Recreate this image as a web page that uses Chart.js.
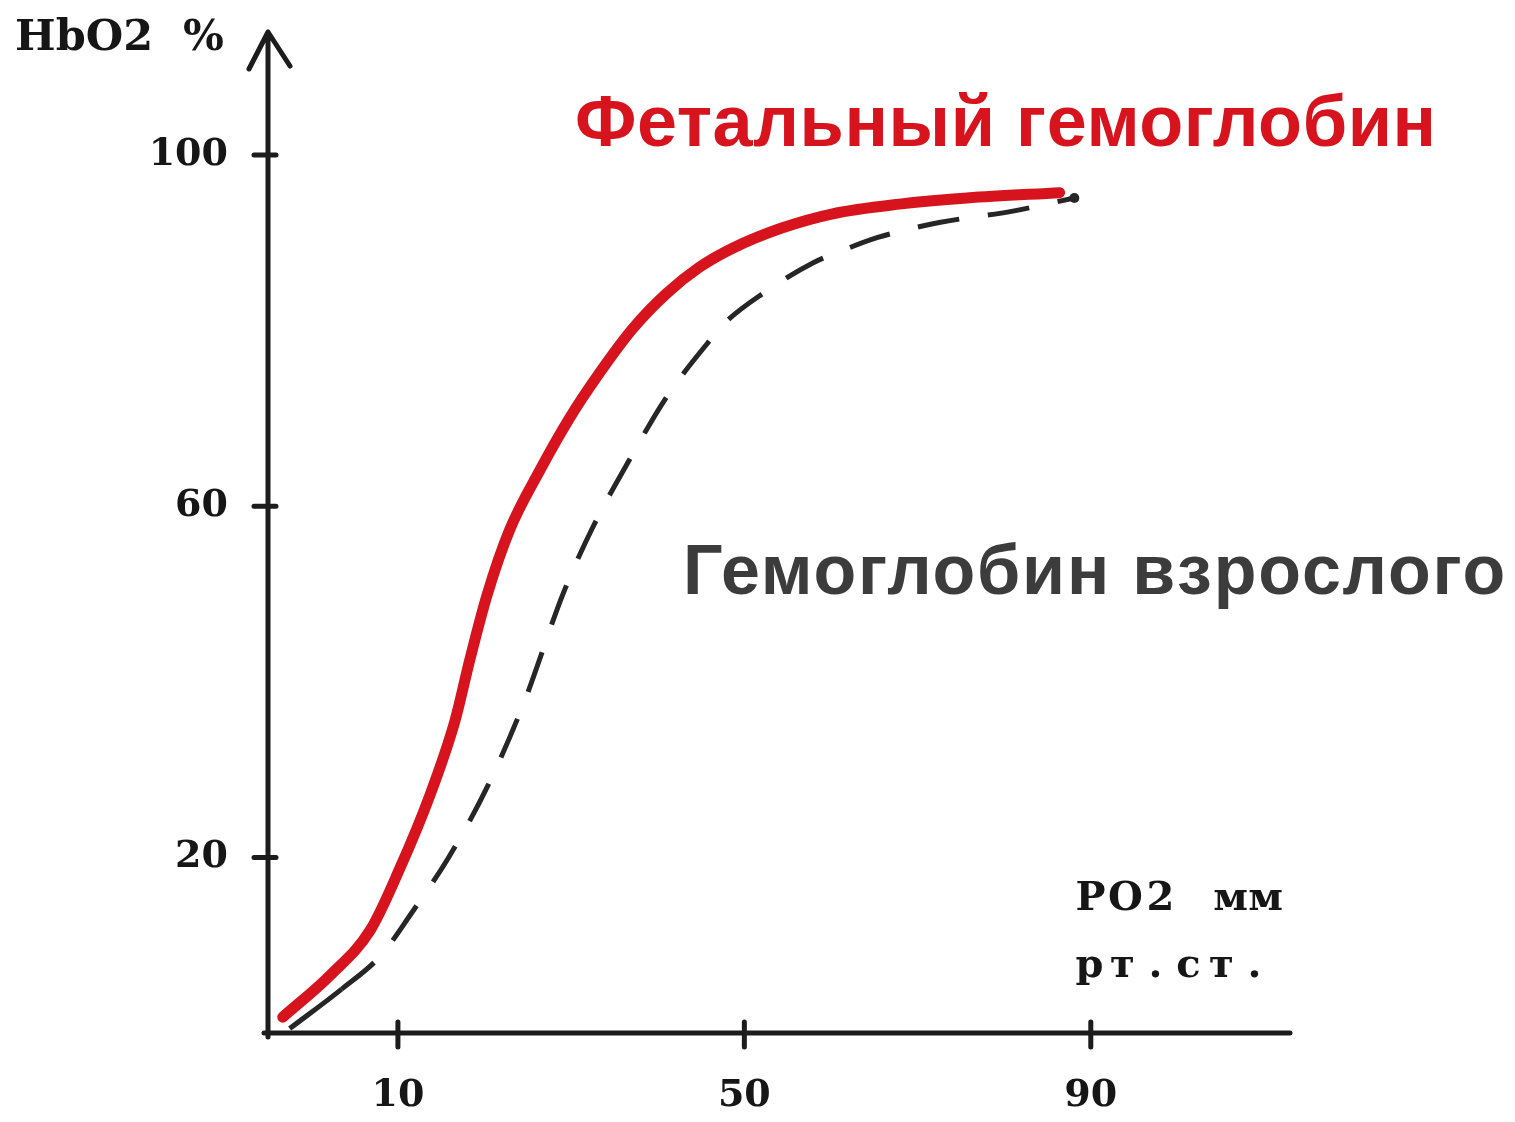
<!DOCTYPE html>
<html>
<head>
<meta charset="utf-8">
<script src="https://cdn.jsdelivr.net/npm/chart.js@4"></script>
<style>
html, body { margin: 0; padding: 0; background: #fff; }
canvas { display: block; }
</style>
</head>
<body>
<canvas id="grafico" width="1515" height="1122"></canvas>
<script>
// curva fetal (roja) y curva del adulto (discontinua)
const fetalPO2 = [-3.3, 2.2, 6.8, 10.2, 13.7, 16.6, 18.3, 20.3, 22.9, 26.4, 29.8, 33.3, 37.1, 41.0, 44.8, 48.7, 54.4, 60.2, 67.9, 75.7, 86.4];
const fetalHbO2 = [1.8, 6.6, 11.7, 18.7, 27.1, 35.6, 42.5, 49.9, 57.3, 64.1, 70.0, 75.2, 80.2, 84.2, 87.2, 89.4, 91.7, 93.3, 94.4, 95.1, 95.7];
const adultoPO2 = [-2.5, 3.5, 8.0, 11.6, 15.8, 20.3, 24.5, 29.1, 32.5, 36.8, 41.0, 45.7, 48.0, 52.1, 57.9, 61.8, 65.4, 72.5, 81.0, 88.1];
const adultoHbO2 = [0.5, 5.0, 8.8, 13.7, 19.9, 28.0, 37.5, 50.1, 57.6, 65.4, 72.4, 78.5, 81.1, 84.2, 87.7, 89.3, 90.6, 92.3, 93.6, 95.1];
const xTicks = [10, 50, 90];
const yTicks = [20, 60, 100];

const fuenteMaquina = '"DejaVu Serif", serif';

// texto tipo máquina de escribir: cada letra en su celda
function escribir(ctx, texto, x0, y, paso) {
  ctx.textAlign = 'center';
  [...texto].forEach((c, i) => ctx.fillText(c, x0 + (i + 0.5) * paso, y));
  ctx.textAlign = 'left';
}

const ejes = {
  id: 'ejes',
  beforeDatasetsDraw(chart) {
    const { ctx, chartArea: a, scales: { x, y } } = chart;
    ctx.save();
    ctx.strokeStyle = '#1c1c1c';
    ctx.lineWidth = 5;
    ctx.lineCap = 'round';
    ctx.lineJoin = 'round';
    ctx.beginPath();
    ctx.moveTo(a.left, a.bottom + 4);
    ctx.lineTo(a.left, a.top);
    ctx.moveTo(a.left - 19, a.top + 37);
    ctx.lineTo(a.left, a.top);
    ctx.lineTo(a.left + 22, a.top + 34);
    ctx.moveTo(a.left - 4, a.bottom);
    ctx.lineTo(a.right, a.bottom);
    xTicks.forEach(v => {
      const px = x.getPixelForValue(v);
      ctx.moveTo(px, a.bottom - 11);
      ctx.lineTo(px, a.bottom + 14);
    });
    yTicks.forEach(v => {
      const py = y.getPixelForValue(v);
      ctx.moveTo(a.left - 14, py);
      ctx.lineTo(a.left + 8, py);
    });
    ctx.stroke();
    ctx.restore();
  }
};

const textos = {
  id: 'textos',
  afterDraw(chart) {
    const ctx = chart.ctx;
    ctx.save();
    ctx.textBaseline = 'alphabetic';
    ctx.textAlign = 'left';
    ctx.fillStyle = '#161616';
    ctx.font = 'bold 43px ' + fuenteMaquina;
    ctx.fillText('HbO2  %', 15, 50);
    ctx.font = 'bold 40px ' + fuenteMaquina;
    escribir(ctx, 'PO2 мм', 1073, 910, 35);
    escribir(ctx, 'рт.ст.', 1073, 977, 33);
    ctx.font = 'bold 72px "Liberation Sans", Arial, sans-serif';
    ctx.letterSpacing = '0.6px';
    ctx.fillStyle = '#d7141e';
    ctx.fillText('Фетальный гемоглобин', 575, 146);
    ctx.font = 'bold 70px "Liberation Sans", Arial, sans-serif';
    ctx.letterSpacing = '1.8px';
    ctx.fillStyle = '#3c3c3c';
    ctx.fillText('Гемоглобин взрослого', 683, 594);
    ctx.restore();
  }
};

const ctx = document.getElementById('grafico').getContext('2d');
const grafico = new Chart(ctx, {
  type: 'line',
  data: {
    datasets: [{
      label: 'Фетальный гемоглобин',
      data: fetalPO2.map((v, i) => ({ x: v, y: fetalHbO2[i] })),
      borderColor: '#d7141e',
      borderWidth: 11,
      borderCapStyle: 'round',
      cubicInterpolationMode: 'monotone',
      pointRadius: 0
    }, {
      label: 'Гемоглобин взрослого',
      data: adultoPO2.map((v, i) => ({ x: v, y: adultoHbO2[i] })),
      borderColor: '#262626',
      borderWidth: 5,
      cubicInterpolationMode: 'monotone',
      pointRadius: c => c.dataIndex === adultoPO2.length - 1 ? 5 : 0,
      pointBackgroundColor: '#262626',
      pointBorderWidth: 0,
      segment: {
        borderDash: c => c.p0DataIndex === 0 ? [] : [42, 29]
      }
    }]
  },
  options: {
    responsive: false,
    animation: false,
    devicePixelRatio: 1,
    layout: { padding: { left: 0, top: 32, right: 225, bottom: 0 } },
    plugins: { legend: { display: false }, tooltip: { enabled: false } },
    scales: {
      x: {
        type: 'linear',
        min: -5,
        max: 113,
        grid: { display: false, drawTicks: false },
        border: { display: false },
        afterBuildTicks: s => { s.ticks = xTicks.map(v => ({ value: v })); },
        afterFit: s => { s.height = 89; s.paddingLeft = 0; s.paddingRight = 0; },
        ticks: {
          padding: 40,
          autoSkip: false,
          maxRotation: 0,
          color: '#161616',
          font: { family: fuenteMaquina, weight: 'bold', size: 38 }
        }
      },
      y: {
        type: 'linear',
        min: 0,
        max: 114,
        grid: { display: false, drawTicks: false },
        border: { display: false },
        afterBuildTicks: s => { s.ticks = yTicks.map(v => ({ value: v })); },
        afterFit: s => { s.width = 268; s.paddingTop = 0; s.paddingBottom = 0; },
        ticks: {
          padding: 40,
          autoSkip: false,
          color: '#161616',
          font: { family: fuenteMaquina, weight: 'bold', size: 38 }
        }
      }
    }
  },
  plugins: [ejes, textos]
});
</script>
</body>
</html>
